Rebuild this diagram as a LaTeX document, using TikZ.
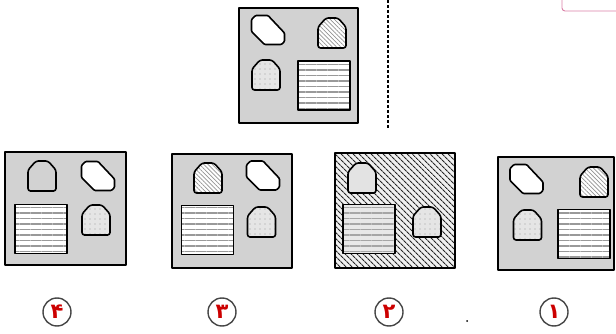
\documentclass[tikz,border=0pt]{standalone}
\usepackage{fontspec}
\usepackage{xcolor}
\usepackage{tikz}
\usetikzlibrary{patterns.meta}
\newfontfamily\arabicfont[Script=Arabic]{DejaVu Sans}

\tikzset{
  outline/.style={draw=black, line width=1.6pt, line join=round},
  panel/.style={outline, line width=1.9pt, fill=gray!35},
  hatchpanel/.style={preaction={fill=gray!12}, pattern={Lines[angle=-45,distance=4pt,line width=1.1pt]}, pattern color=black!85, outline, line width=1.9pt},
  blank/.style={outline, fill=white},
  plain/.style={outline, fill=gray!35},
  pale/.style={outline, fill=gray!22},
  hatched/.style={preaction={fill=white}, pattern={Lines[angle=-45,distance=3pt,line width=0.7pt]}, pattern color=gray!85, outline},
  speckled/.style={preaction={fill=gray!20}, pattern={Dots[distance=5pt,radius=0.6pt]}, pattern color=gray!75, outline},
  striped/.style={preaction={fill=white}, pattern={Lines[angle=0,distance=5.5pt,line width=1.1pt]}, pattern color=gray!80, outline},
  stripedpale/.style={preaction={fill=gray!18}, pattern={Lines[angle=0,distance=5.5pt,line width=1.1pt]}, pattern color=gray!70, outline},
  choice/.style={circle, draw=gray!55!black, line width=1.4pt, minimum size=28pt, inner sep=0pt, text=red!80!black, font=\arabicfont\fontsize{21}{21}\selectfont\bfseries}
}

% shapes, centred on the given point
\newcommand{\octshape}[2]{\draw[#1, shift={#2}, rounded corners=1pt] (-16.5,-10.5) -- (-12.5,-14.5) -- (0,-14.5) -- (16.5,3) -- (16.5,11.5) -- (13.5,14.5) -- (-3.5,14.5) -- (-16.5,1.5) -- cycle;}
\newcommand{\houseshape}[2]{\draw[#1, shift={#2}, rounded corners=2.5pt] (-14,15) -- (-14,-6) -- (-6,-15) -- (6,-15) -- (14,-6) -- (14,15) -- cycle;}
\newcommand{\sqshape}[2]{\draw[#1, shift={#2}] (-26,-24.5) rectangle (26,24.5);}

\begin{document}
\begin{tikzpicture}[x=1pt, y=-1pt]
    \useasboundingbox (0,0) rectangle (616,334);
    \clip (0,0) rectangle (616,334);

    % Question figure
    \draw[panel] (239,8) rectangle (358,123);
    \octshape{blank}{(268,30)}
    \houseshape{hatched}{(332,33)}
    \houseshape{speckled}{(266,75)}
    \sqshape{striped}{(324,85.5)}

    % Separator and corner tab
    \draw[line width=1.7pt, dash pattern=on 3pt off 2pt] (388,0) -- (388,128);
    \draw[red!40!violet!50, line width=0.9pt, rounded corners=3pt] (562,-10) rectangle (630,11);

    % Option 4
    \draw[panel] (5,152) rectangle (126,265);
    \houseshape{plain}{(42,176)}
    \octshape{blank}{(98,176)}
    \sqshape{striped}{(41,229)}
    \houseshape{speckled}{(96,220)}

    % Option 3
    \draw[panel] (172,154) rectangle (292,268);
    \houseshape{hatched}{(208,178)}
    \octshape{blank}{(263,175.5)}
    \sqshape{striped}{(207.5,230)}
    \houseshape{speckled}{(261.5,222)}

    % Option 2
    \draw[hatchpanel] (335,153) rectangle (455,268);
    \houseshape{pale}{(362,178)}
    \octshape{blank, xscale=-1}{(428,177.5)}
    \sqshape{stripedpale}{(369,229)}
    \houseshape{speckled}{(427,222)}

    % Option 1
    \draw[panel] (498,157) rectangle (614,270);
    \octshape{blank}{(526.5,179)}
    \houseshape{hatched}{(594,182)}
    \houseshape{speckled}{(527.5,225)}
    \sqshape{striped}{(584,234)}

    % Answer numbers
    \node[choice] (lbl4) at (57,312) {۴};
    \node[choice] (lbl3) at (222,312) {۳};
    \node[choice] (lbl2) at (389,312) {۲};
    \node[choice] (lbl1) at (554,312) {۱};
    \fill (467,321) circle (1pt);
\end{tikzpicture}
\end{document}
